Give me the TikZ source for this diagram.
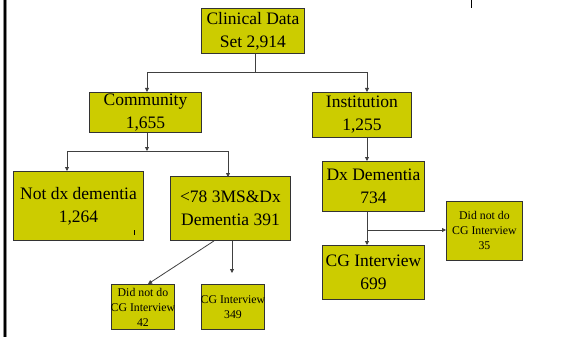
\documentclass[tikz,border=0pt]{standalone}
\usepackage{fontspec}
\setmainfont{Liberation Serif}
\usetikzlibrary{arrows.meta}
\definecolor{boxyellow}{RGB}{204,204,0}
\tikzset{
  box/.style={draw=black!80, line width=0.9pt, fill=boxyellow, inner sep=0pt, align=center, anchor=north west},
  big/.style={font=\fontsize{17.5}{23}\selectfont},
  small/.style={font=\fontsize{11.8}{15}\selectfont},
  conn/.style={draw=black!75, line width=0.8pt},
  arr/.style={conn, -{Triangle[length=4pt,width=4pt]}},
}
\begin{document}
\begin{tikzpicture}[x=1pt,y=-1pt]
\useasboundingbox (0,0) rectangle (576,337);
\fill[white] (0,0) rectangle (576,337);
% left border and marks
\draw[black!45, line width=4pt] (5,0) -- (5,337);
\draw[black, line width=2.2pt] (5,0) -- (5,337);
\draw[black, line width=0.8pt] (471,0) -- (471,8);

% boxes
\node[box, big, minimum width=103pt, minimum height=45pt] (cd) at (201,8) {Clinical Data\\Set 2,914};
\node[box, big, minimum width=112pt, minimum height=40pt] (com) at (89,92) {Community\\1,655};
\node[box, big, minimum width=99pt, minimum height=45pt] (ins) at (312,92) {Institution\\1,255};
\node[box, big, minimum width=130pt, minimum height=69pt] (ndx) at (13,171) {Not dx dementia\\1,264};
\node[box, big, minimum width=120pt, minimum height=64pt] (lt) at (170,176) {<78 3MS\&Dx\\Dementia 391};
\node[box, big, minimum width=102pt, minimum height=50pt] (dxd) at (322,161) {Dx Dementia\\734};
\node[box, big, minimum width=102pt, minimum height=54pt] (cgi) at (322,245) {CG Interview\\699};
\node[box, small, minimum width=76pt, minimum height=59pt] (dn35) at (446,201) {Did not do\\CG Interview\\35};
\node[box, small, minimum width=63pt, minimum height=45pt] (dn42) at (111,284) {Did not do\\\makebox[0pt]{CG Interview}\\42};
\node[box, small, minimum width=63pt, minimum height=45pt] (cg349) at (201,284) {\makebox[0pt]{CG Interview}\\349};

% small mark in box
\draw[black, line width=0.8pt] (134,230) -- (134,235);

% connectors
\coordinate (j1) at (255,72);
\draw[conn] (j1 |- cd.south) -- (j1);
\draw[arr] (j1) -| (com.north -| 147,0);
\draw[arr] (j1) -| (ins.north -| 367,0);
\coordinate (j2) at (147,151);
\draw[arr] (com.south -| j2) -- (j2);
\draw[arr] (j2) -| (ndx.north -| 67,0);
\draw[arr] (j2) -| ([yshift=-1pt]lt.north -| 228,0);
\draw[arr] (ins.south -| 367,0) -- (dxd.north -| 367,0);
\draw[arr] (dxd.south -| 367,0) -- (cgi.north -| 367,0);
\coordinate (j3) at (367,230);
\draw[arr] (j3) -- (dn35.west |- j3);
\draw[arr] (lt.south -| 214,0) -- (dn42.north -| 148,0);
\coordinate (e349) at (232,273);
\draw[arr] (lt.south -| 232,0) -- (e349);
\end{tikzpicture}
\end{document}
